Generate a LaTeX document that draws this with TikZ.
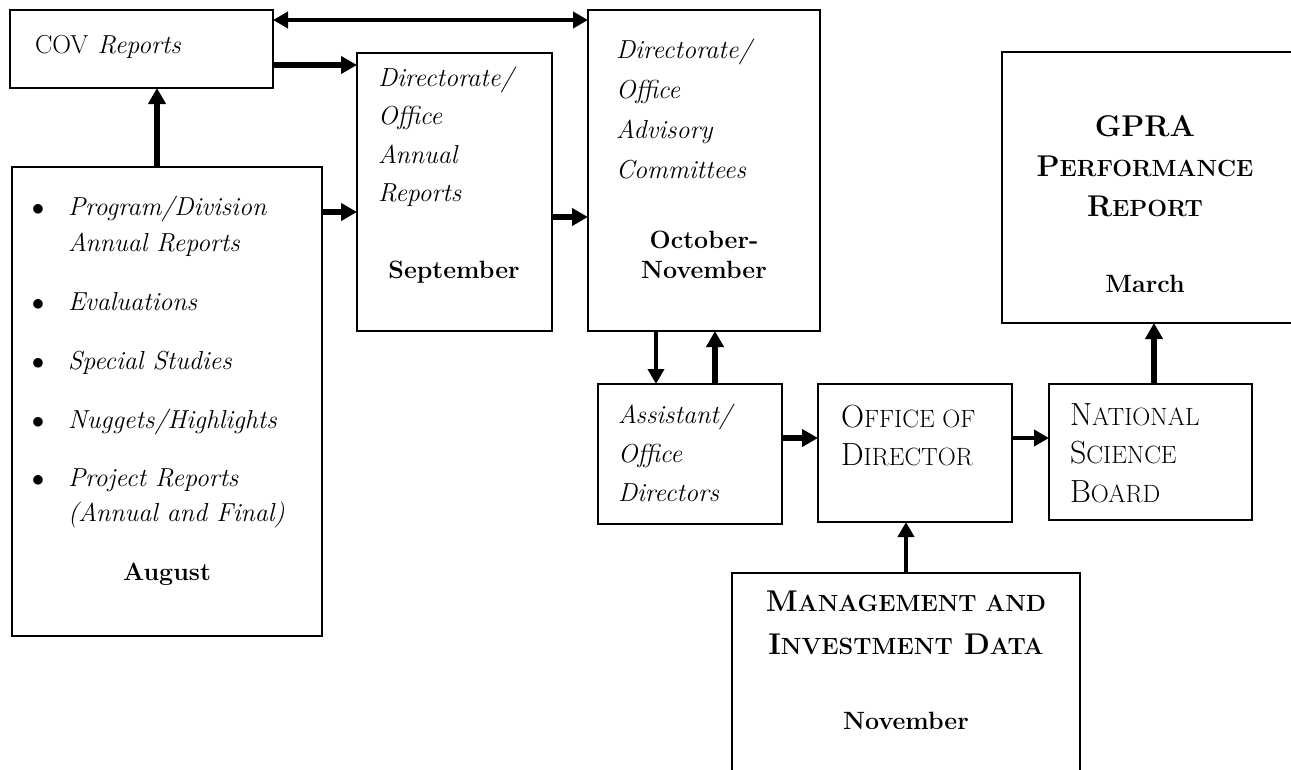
\documentclass[tikz,border=0pt]{standalone}
\usepackage{fontspec}
\usetikzlibrary{arrows.meta}
\newcommand\sck[3][23.4]{#2{\fontsize{#1pt}{28pt}\selectfont #3}}
\begin{document}
\begin{tikzpicture}[x=1pt,y=-1pt,
  box/.style={draw, line width=2pt, inner sep=0pt, outer sep=0pt, anchor=north west},
  itx/.style={inner sep=0pt, outer sep=0pt, anchor=base west, font=\fontsize{26pt}{30pt}\selectfont\itshape},
  bul/.style={inner sep=0pt, outer sep=0pt, anchor=base, font=\fontsize{25pt}{30pt}\selectfont},
  mon/.style={inner sep=0pt, outer sep=0pt, anchor=base, font=\fontsize{25pt}{28pt}\selectfont\bfseries},
  scx/.style={inner sep=0pt, outer sep=0pt, anchor=base west, font=\fontsize{32pt}{36pt}\selectfont},
  scb/.style={inner sep=0pt, outer sep=0pt, anchor=base, font=\fontsize{30pt}{36pt}\selectfont\bfseries},
  thick arrow/.style={-{Triangle[length=16pt,width=17pt]}, line width=6.5pt},
  thin arrow/.style={-{Triangle[length=15pt,width=16pt]}, line width=4pt}
]
\useasboundingbox (0,0) rectangle (1291,769);
\fill[white] (0,0) rectangle (1291,769);

% boxes
\node[box, minimum width=263pt, minimum height=78pt]  (cov)  at (10,10)   {};
\node[box, minimum width=310pt, minimum height=469pt] (lb)   at (12,167)  {};
\node[box, minimum width=195pt, minimum height=278pt] (dar)  at (357,53)  {};
\node[box, minimum width=232pt, minimum height=321pt] (dac)  at (588,10)  {};
\node[box, minimum width=300pt, minimum height=271pt] (gpra) at (1002,52) {};
\node[box, minimum width=184pt, minimum height=140pt] (aod)  at (598,384) {};
\node[box, minimum width=194pt, minimum height=138pt] (od)   at (818,384) {};
\node[box, minimum width=203pt, minimum height=136pt] (nsb)  at (1049,384) {};
\node[box, minimum width=348pt, minimum height=220pt] (mgmt) at (732,573) {};

% texts
\node[itx] (tcov) at (35,53) {{\upshape COV} Reports};

\node[bul] (b1) at (38,215) {$\bullet$};
\node[bul] (b2) at (38,310) {$\bullet$};
\node[bul] (b3) at (38,369) {$\bullet$};
\node[bul] (b4) at (38,428) {$\bullet$};
\node[bul] (b5) at (38,486) {$\bullet$};
\node[itx] (p1a) at (68,215) {Program/Division};
\node[itx] (p1b) at (68,251) {Annual Reports};
\node[itx] (p2)  at (68,310) {Evaluations};
\node[itx] (p3)  at (68,369) {Special Studies};
\node[itx] (p4)  at (68,428) {Nuggets/Highlights};
\node[itx] (p5a) at (68,486) {Project Reports};
\node[itx] (p5b) at (68,521) {(Annual and Final)};
\node[mon] (aug) at (167,580) {August};

\node[itx] (d1) at (378,86)  {Directorate/};
\node[itx] (d2) at (378,124) {Office};
\node[itx] (d3) at (378,163) {Annual};
\node[itx] (d4) at (378,201) {Reports};
\node[mon] (sep) at (454,278) {September};

\node[itx] (c1) at (616,58)  {Directorate/};
\node[itx] (c2) at (616,98)  {Office};
\node[itx] (c3) at (616,138) {Advisory};
\node[itx] (c4) at (616,178) {Committees};
\node[mon] (oct) at (704,248) {October-};
\node[mon] (nov) at (704,278) {November};

\node[itx] (a1) at (618,423) {Assistant/};
\node[itx] (a2) at (618,462) {Office};
\node[itx] (a3) at (618,501) {Directors};

\node[scx] (o1) at (841,427) {\sck[25]{O}{FFICE OF}};
\node[scx] (o2) at (841,465) {\sck[25]{D}{IRECTOR}};

\node[scx] (n1) at (1070,425) {\sck[25]{N}{ATIONAL}};
\node[scx] (n2) at (1070,463) {\sck[25]{S}{CIENCE}};
\node[scx] (n3) at (1070,502) {\sck[25]{B}{OARD}};

\node[scb] (g1) at (1145,136) {GPRA};
\node[scb] (g2) at (1145,176) {\sck{P}{ERFORMANCE}};
\node[scb] (g3) at (1145,216) {\sck{R}{EPORT}};
\node[mon] (mar) at (1145,292) {March};

\node[scb] (m1) at (906,611) {\sck{M}{ANAGEMENT AND}};
\node[scb] (m2) at (906,654) {\sck{I}{NVESTMENT} \sck{D}{ATA}};
\node[mon] (mnov) at (906,729) {November};

% connectors
\draw[{Triangle[length=15pt,width=16pt]}-{Triangle[length=15pt,width=16pt]}, line width=4pt]
  ([yshift=-10pt]cov.north east) -- ([yshift=-10pt]dac.north west);
\draw[thick arrow] ([yshift=-55pt]cov.north east) -- ([yshift=-12pt]dar.north west);
\draw[thick arrow] ([xshift=145pt]lb.north west) -- ([xshift=147pt]cov.south west);
\draw[thick arrow] ([yshift=-45pt]lb.north east) -- ([yshift=-159pt]dar.north west);
\draw[thick arrow] ([yshift=-164pt]dar.north east) -- ([yshift=-207pt]dac.north west);
\draw[thin arrow] ([xshift=68pt]dac.south west) -- ([xshift=58pt]aod.north west);
\draw[thick arrow] ([xshift=117pt]aod.north west) -- ([xshift=127pt]dac.south west);
\draw[thick arrow] ([yshift=-54pt]aod.north east) -- ([yshift=-54pt]od.north west);
\draw[thin arrow] ([yshift=-54pt]od.north east) -- ([yshift=-54pt]nsb.north west);
\draw[thin arrow] ([xshift=174pt]mgmt.north west) -- ([xshift=88pt]od.south west);
\draw[thick arrow] ([xshift=105pt]nsb.north west) -- ([xshift=152pt]gpra.south west);
\end{tikzpicture}
\end{document}
